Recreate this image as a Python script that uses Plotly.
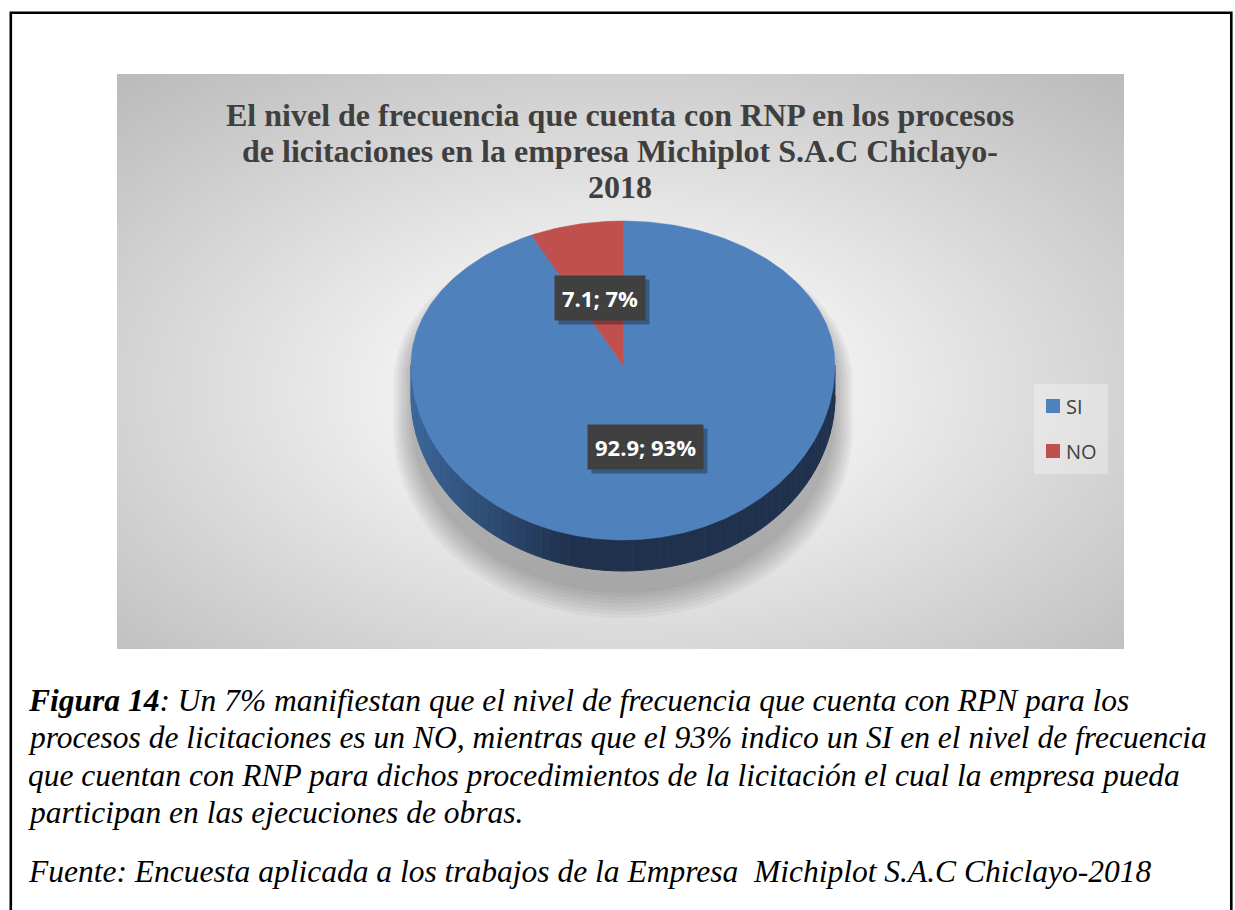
import base64
import numpy as np
import plotly.graph_objects as go

# ---------------- data ----------------
categories = ["SI", "NO"]
values = [92.9, 7.1]
colors = ["#4F81BD", "#C0504D"]

title_lines = [
    "El nivel de frecuencia que cuenta con RNP en los procesos",
    "de licitaciones en la empresa Michiplot S.A.C Chiclayo-",
    "2018",
]
caption_lines = [
    "<b>Figura 14</b>: Un 7% manifiestan que el nivel de frecuencia que cuenta con RPN para los",
    "procesos de licitaciones es un NO, mientras que el 93% indico un SI en el nivel de frecuencia",
    "que cuentan con RNP para dichos procedimientos de la licitación el cual la empresa pueda",
    "participan en las ejecuciones de obras.",
]
source_line = "Fuente: Encuesta aplicada a los trabajos de la Empresa  Michiplot S.A.C Chiclayo-2018"

# ---------------- geometry (layout, px) ----------------
W, H = 1235, 910
CX, CY, RX, RYT, RYB, DEPTH = 623, 365, 212, 144, 175, 31


def ell(theta_deg, depth=0.0, scale=1.0, cx=CX, cy=CY):
    t = np.radians(np.asarray(theta_deg, dtype=float))
    c = np.cos(t)
    ry = np.where(c > 0, RYT, RYB)
    x = cx + scale * RX * np.sin(t)
    y = cy - scale * ry * c + depth
    return x, y


fig = go.Figure()

# ---- soft shadow under the pie ----
th_up = np.linspace(-90, 90, 91)
th_dn = np.linspace(90, 270, 91)
for k in range(8):
    s = 1.0 + 0.012 * k
    xu, yu = ell(th_up, depth=10, scale=s, cy=CY + 8)
    xd, yd = ell(th_dn, depth=10 + DEPTH + 4 + 1.5 * k, scale=s, cy=CY + 8)
    fig.add_trace(go.Scatter(
        x=np.concatenate([xu, xd]), y=np.concatenate([yu, yd]),
        fill="toself", mode="lines", line=dict(width=0),
        fillcolor="rgba(0,0,0,0.035)", hoverinfo="skip", showlegend=False))

# ---- side of the pie (gradient strips) ----
def side_color(x):
    t = np.clip((x - (CX - RX)) / 160.0, 0, 1)
    c0 = np.array([60, 102, 154])
    c1 = np.array([31, 49, 77])
    c = (c0 + (c1 - c0) * t).astype(int)
    return "rgb(%d,%d,%d)" % tuple(c)

edges = np.linspace(90, 270, 73)
for a, b in zip(edges[:-1], edges[1:]):
    th = np.linspace(a, b, 4)
    xt, yt = ell(th)
    xb, yb = ell(th[::-1], depth=DEPTH)
    xm = float(np.mean(xt))
    col = side_color(xm)
    fig.add_trace(go.Scatter(
        x=np.concatenate([xt, xb]), y=np.concatenate([yt, yb]),
        fill="toself", mode="lines", line=dict(width=1, color=col),
        fillcolor=col, hoverinfo="skip", showlegend=False))

# ---- top slices from data ----
total = sum(values)
start = 0.0
mids = []
for cat, v, col in zip(categories, values, colors):
    span = 360.0 * v / total
    th = np.linspace(start, start + span, max(3, int(span) + 2))
    xa, ya = ell(th)
    fig.add_trace(go.Scatter(
        x=np.concatenate([[CX], xa, [CX]]), y=np.concatenate([[CY], ya, [CY]]),
        fill="toself", mode="lines", line=dict(width=0.5, color=col),
        fillcolor=col, name=cat, hoverinfo="skip", showlegend=False))
    mids.append(start + span / 2)
    start += span

# ---- data labels ----
annotations = []
for cat, v, m in zip(categories, values, mids):
    lx, ly = ell([m], scale=0.48)
    lbl = "%s; %d%%" % (("%.1f" % v), round(v / total * 100))
    common = dict(x=float(lx[0]), y=float(ly[0]), xref="x", yref="y",
                  showarrow=False, borderpad=7)
    annotations.append(dict(text="<b>%s</b>" % lbl, bgcolor="rgba(0,0,0,0.30)",
                            xshift=4, yshift=-4,
                            font=dict(family="Open Sans", size=22, color="rgba(0,0,0,0)"),
                            **common))
    annotations.append(dict(text="<b>%s</b>" % lbl, bgcolor="#404040",
                            font=dict(family="Open Sans", size=22, color="white"),
                            **common))

# ---- legend (manual) ----
shapes = []
shapes.append(dict(type="rect", xref="x", yref="y", x0=1034, x1=1108, y0=384, y1=474,
                   fillcolor="rgba(255,255,255,0.3)", line=dict(width=0), layer="above"))
for i, (cat, col) in enumerate(zip(categories, colors)):
    yc = 406 + 45 * i
    shapes.append(dict(type="rect", xref="x", yref="y", x0=1046, x1=1060,
                       y0=yc - 7, y1=yc + 7, fillcolor=col, line=dict(width=0), layer="above"))
    annotations.append(dict(x=1064, y=yc, xref="x", yref="y", text=cat, showarrow=False,
                            xanchor="left", yanchor="middle",
                            font=dict(family="Open Sans", size=20, color="#404040")))

# ---- title ----
for t, yv in zip(title_lines, [115, 151, 187]):
    annotations.append(dict(x=620, y=yv, xref="x", yref="y", text="<b>%s</b>" % t,
                            showarrow=False, xanchor="center", yanchor="middle",
                            font=dict(family="Liberation Serif", size=32, color="#3f3f3f")))

# ---- caption ----
cap_y = [700, 737, 775, 812]
for t, yv in zip(caption_lines, cap_y):
    annotations.append(dict(x=26, y=yv, xref="x", yref="y", text="<i>%s</i>" % t,
                            showarrow=False, xanchor="left", yanchor="middle",
                            font=dict(family="Liberation Serif", size=31.5, color="black")))
annotations.append(dict(x=26, y=871, xref="x", yref="y", text="<i>%s</i>" % source_line,
                        showarrow=False, xanchor="left", yanchor="middle",
                        font=dict(family="Liberation Serif", size=31.5, color="black")))

# ---- outer border ----
shapes.append(dict(type="path", xref="x", yref="y",
                   path="M 10.8 915 L 10.8 12.8 L 1231.3 12.8 L 1231.3 915",
                   line=dict(color="black", width=2.6)))

# ---- gradient chart background ----
svg = ("<svg xmlns='http://www.w3.org/2000/svg' width='1007' height='575' viewBox='0 0 1007 575' "
       "preserveAspectRatio='none'><defs><radialGradient id='g' cx='50%' cy='55%' r='72%'>"
       "<stop offset='0' stop-color='#fafafa'/><stop offset='0.3' stop-color='#f0f0f0'/>"
       "<stop offset='1' stop-color='#bcbcbc'/></radialGradient></defs>"
       "<rect width='1007' height='575' fill='url(#g)'/></svg>")
src = "data:image/svg+xml;base64," + base64.b64encode(svg.encode()).decode()

fig.update_layout(
    width=W, height=H,
    margin=dict(l=0, r=0, t=0, b=0, pad=0),
    paper_bgcolor="white", plot_bgcolor="rgba(0,0,0,0)",
    xaxis=dict(range=[0, W], visible=False, fixedrange=True),
    yaxis=dict(range=[H, 0], visible=False, fixedrange=True),
    showlegend=False,
    shapes=shapes,
    annotations=annotations,
    images=[dict(source=src, xref="paper", yref="paper", x=117 / W, y=1 - 74 / H,
                 sizex=1007 / W, sizey=575 / H, xanchor="left", yanchor="top",
                 sizing="stretch", layer="below")],
)

fig.write_html("out.html", config={"displayModeBar": False},
               post_script="document.body.style.margin='0px';document.body.style.overflow='hidden';")
